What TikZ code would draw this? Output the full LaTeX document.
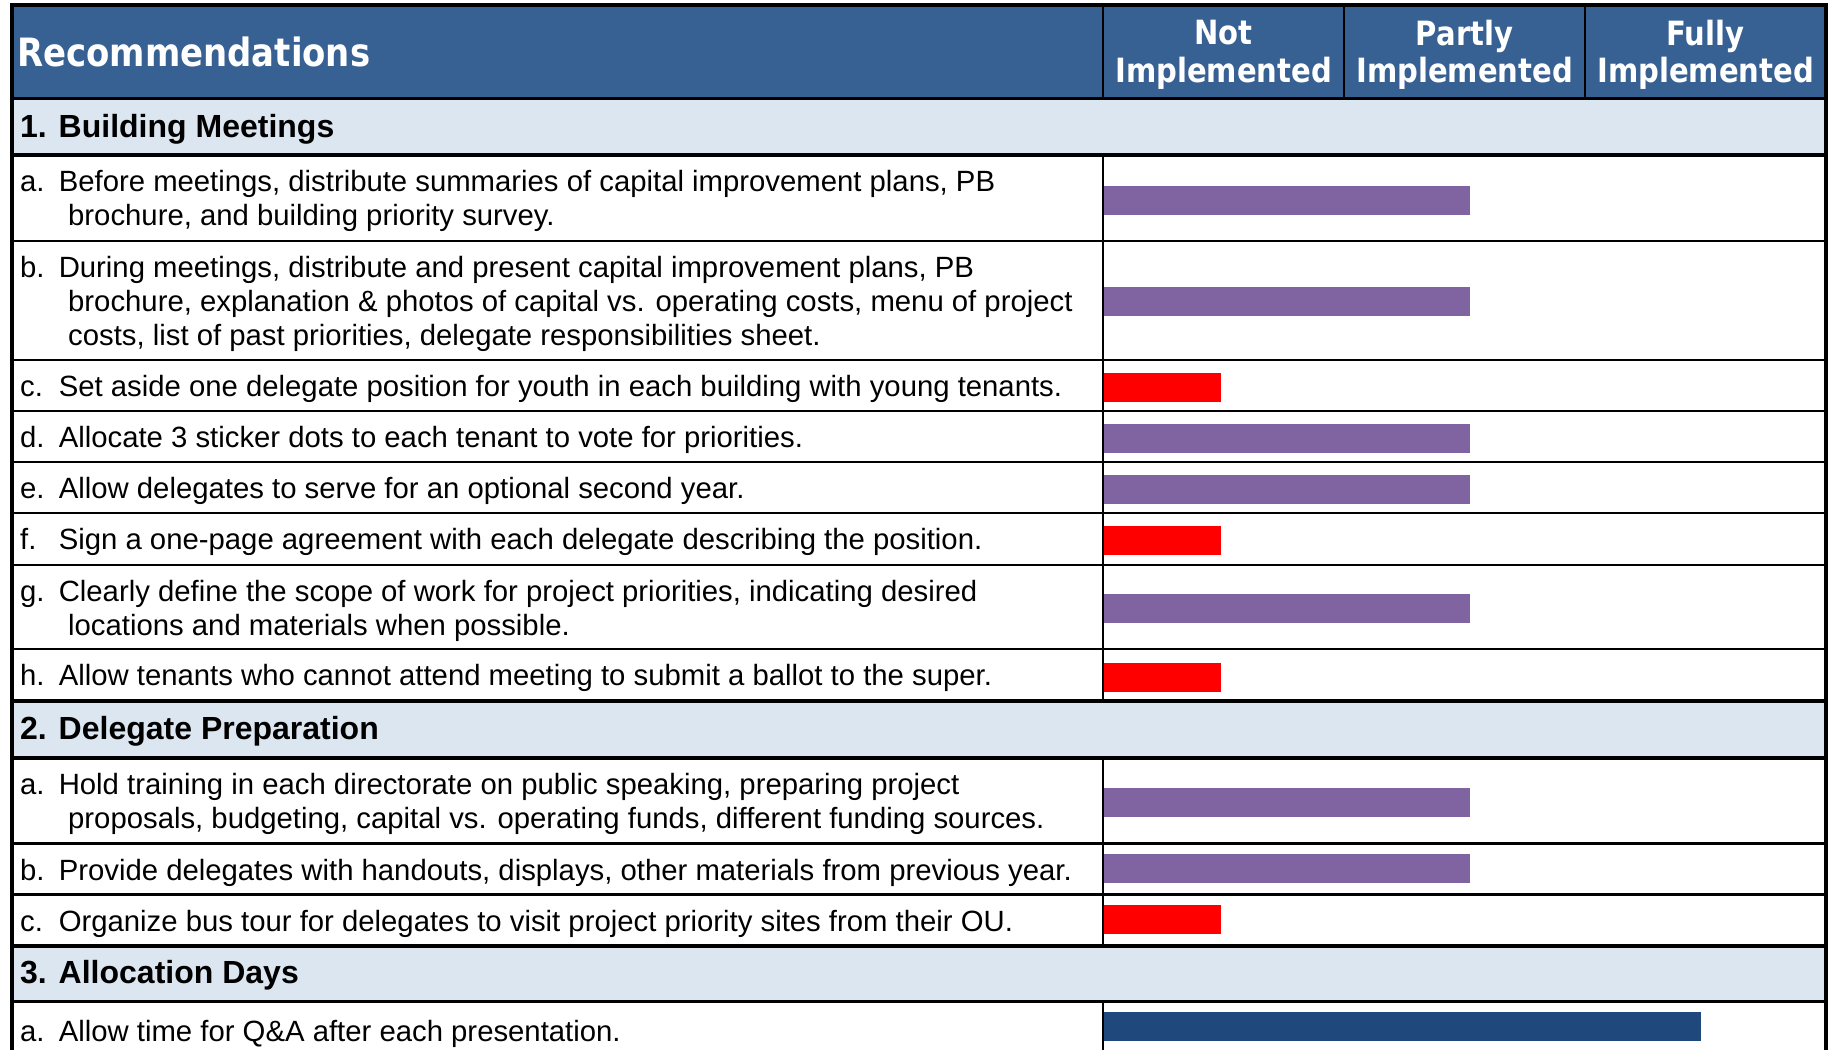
\documentclass[tikz,border=0pt]{standalone}
\usepackage{fontspec}
\setmainfont{Liberation Sans}
\newfontfamily\hdrfont{DejaVu Sans}[FakeStretch=0.87]
\definecolor{hdrblue}{HTML}{376093}
\definecolor{secblue}{HTML}{DCE6F1}
\definecolor{barpurple}{HTML}{8064A2}
\definecolor{barred}{HTML}{FF0000}
\definecolor{barblue}{HTML}{1F497D}
\tikzset{
  itemtext/.style={anchor=base west, inner sep=0pt, align=left, font=\fontsize{29.3}{34}\selectfont},
  sectext/.style={anchor=west, inner sep=0pt, font=\fontsize{32}{36}\selectfont\bfseries},
  hdrtext/.style={inner sep=0pt, text=white, font=\hdrfont\bfseries\fontsize{39}{42}\selectfont},
  coltext/.style={inner sep=0pt, text=white, align=center, font=\hdrfont\bfseries\fontsize{33.4}{37.5}\selectfont},
  thinline/.style={line width=2.2pt, black},
  thickline/.style={line width=3.6pt, black},
}
\newcommand{\lab}[1]{\makebox[38.6pt][l]{#1}}
\newcommand{\cont}{\hspace*{48pt}}
\begin{document}
\begin{tikzpicture}[x=1pt,y=-1pt]
\useasboundingbox (0,0) rectangle (1833,1050);
\fill[white] (0,0) rectangle (1833,1050);
% fills
\fill[hdrblue] (12,5) rectangle (1826,98.5);
\fill[secblue] (12,98.5) rectangle (1826,155);
\fill[secblue] (12,701) rectangle (1826,758);
\fill[secblue] (12,946) rectangle (1826,1001.5);
% bars
\fill[barpurple] (1104,186) rectangle (1470,215);
\fill[barpurple] (1104,287) rectangle (1470,316);
\fill[barred]    (1104,373) rectangle (1221,402);
\fill[barpurple] (1104,424) rectangle (1470,453);
\fill[barpurple] (1104,475) rectangle (1470,504);
\fill[barred]    (1104,526) rectangle (1221,555);
\fill[barpurple] (1104,594) rectangle (1470,623);
\fill[barred]    (1104,663) rectangle (1221,692);
\fill[barpurple] (1104,788) rectangle (1470,817);
\fill[barpurple] (1104,854) rectangle (1470,883);
\fill[barred]    (1104,905) rectangle (1221,934);
\fill[barblue]   (1104,1012) rectangle (1701,1041);
% thin horizontal lines
\foreach \yy in {241,360,411,462,513,565,649,843.5,894.5}
  \draw[thinline] (12,\yy) -- (1826,\yy);
% thick horizontal lines
\foreach \yy in {98.5,155,701,758,946,1001.5}
  \draw[thickline] (10,\yy) -- (1828,\yy);
% vertical dividers
\draw[thinline] (1103,5) -- (1103,98.5);
\draw[thinline] (1344,5) -- (1344,98.5);
\draw[thinline] (1585,5) -- (1585,98.5);
\draw[thinline] (1103,155) -- (1103,701);
\draw[thinline] (1103,758) -- (1103,946);
\draw[thinline] (1103,1001.5) -- (1103,1050);
% outer border
\draw[thickline] (12,1050) -- (12,5) -- (1826,5) -- (1826,1050);
% header texts
\node[hdrtext, anchor=west] (rec) at (17,51.5) {Recommendations};
\node[coltext] (cnot) at (1223.5,55) {Not\\Implemented};
\node[coltext] (cpart) at (1464.5,55) {Partly\\Implemented};
\node[coltext] (cfull) at (1705.5,55) {Fully\\Implemented};
% section texts
\node[sectext] (s1) at (20,129) {1. Building Meetings};
\node[sectext] (s2) at (20,731) {2. Delegate Preparation};
\node[sectext] (s3) at (20,975) {3. Allocation Days};
% items (base anchor = baseline of last line)
\node[itemtext] (i1a) at (20,225) {\lab{a.}Before meetings, distribute summaries of capital improvement plans, PB\\\cont brochure, and building priority survey.};
\node[itemtext] (i1b) at (20,345) {\lab{b.}During meetings, distribute and present capital improvement plans, PB\\\cont brochure, explanation \& photos of capital vs. operating costs, menu of project\\\cont costs, list of past priorities, delegate responsibilities sheet.};
\node[itemtext] (i1c) at (20,396) {\lab{c.}Set aside one delegate position for youth in each building with young tenants.};
\node[itemtext] (i1d) at (20,447) {\lab{d.}Allocate 3 sticker dots to each tenant to vote for priorities.};
\node[itemtext] (i1e) at (20,498.5) {\lab{e.}Allow delegates to serve for an optional second year.};
\node[itemtext] (i1f) at (20,549.5) {\lab{f.}Sign a one-page agreement with each delegate describing the position.};
\node[itemtext] (i1g) at (20,635) {\lab{g.}Clearly define the scope of work for project priorities, indicating desired\\\cont locations and materials when possible.};
\node[itemtext] (i1h) at (20,685.5) {\lab{h.}Allow tenants who cannot attend meeting to submit a ballot to the super.};
\node[itemtext] (i2a) at (20,828.5) {\lab{a.}Hold training in each directorate on public speaking, preparing project\\\cont proposals, budgeting, capital vs. operating funds, different funding sources.};
\node[itemtext] (i2b) at (20,880) {\lab{b.}Provide delegates with handouts, displays, other materials from previous year.};
\node[itemtext] (i2c) at (20,931) {\lab{c.}Organize bus tour for delegates to visit project priority sites from their OU.};
\node[itemtext] (i3a) at (20,1041) {\lab{a.}Allow time for Q\&A after each presentation.};
\end{tikzpicture}
\end{document}
